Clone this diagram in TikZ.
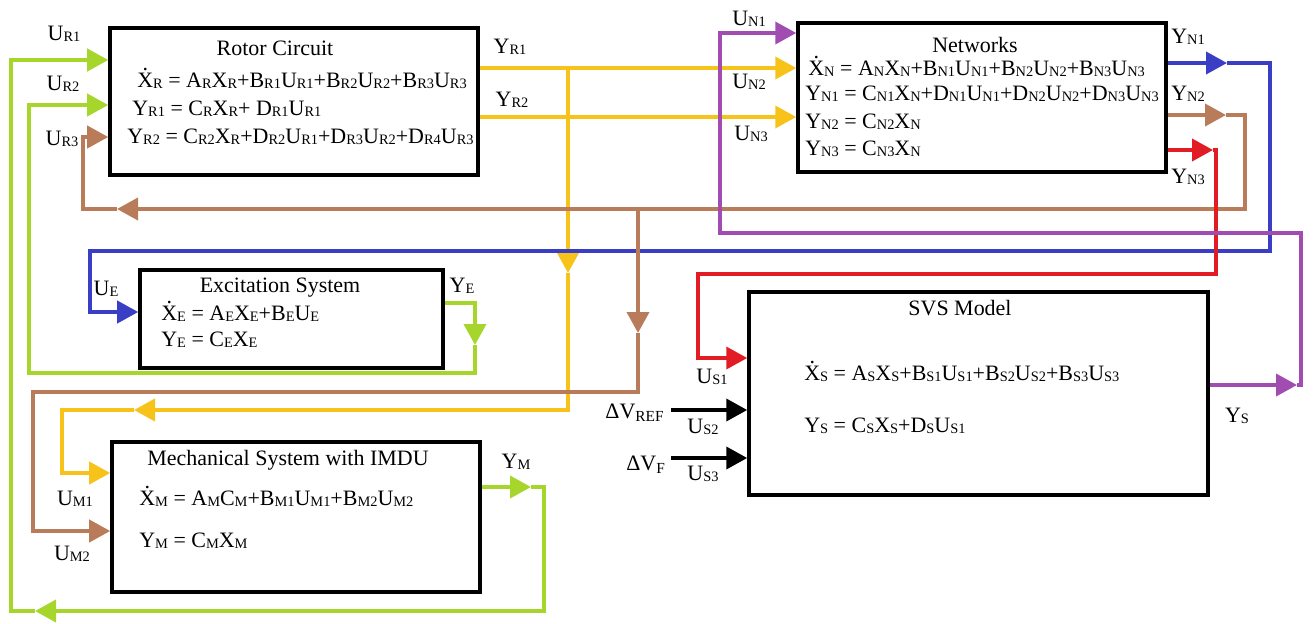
\documentclass[tikz,border=0pt]{standalone}
\usepackage{fontspec}
\setmainfont{Liberation Serif}
\usetikzlibrary{arrows.meta}
\definecolor{ylgreen}{RGB}{166,214,44}
\definecolor{gold}{RGB}{247,195,27}
\definecolor{brn}{RGB}{185,124,90}
\definecolor{blu}{RGB}{58,62,196}
\definecolor{purp}{RGB}{160,76,176}
\definecolor{sred}{RGB}{226,28,36}
\newcommand\lo[1]{\raisebox{-0.6pt}{\fontsize{8.2}{9}\selectfont #1}}
\newcommand\dotx[1]{\ooalign{#1\cr\hidewidth\raisebox{0.76em}{.}\hidewidth\cr}}

\begin{document}
\begin{tikzpicture}[font=\fontsize{12.5}{15}\selectfont,
    blk/.style={draw, line width=2pt},
    eq/.style={anchor=base west, inner sep=0pt},
    ttl/.style={anchor=base, inner sep=0pt},
    lbl/.style={anchor=base, inner sep=0pt},
    wire/.style={line width=2.2pt},
    arr/.style={-{Triangle[length=0.42cm,width=0.44cm]}}]
\useasboundingbox (0,0) rectangle (26.28,-12.46);

% blocks
\node[blk, minimum width=7.36cm, minimum height=2.94cm] (rotor) at (5.88,-2.03) {};
\node[blk, minimum width=7.36cm, minimum height=2.98cm] (net) at (19.64,-1.95) {};
\node[blk, minimum width=6.06cm, minimum height=1.96cm] (exc) at (5.83,-6.38) {};
\node[blk, minimum width=7.36cm, minimum height=3.0cm] (mech) at (5.92,-10.34) {};
\node[blk, minimum width=9.18cm, minimum height=4.06cm] (svs) at (19.57,-7.87) {};

% rotor circuit
\node[ttl] (rotT) at (5.5,-1.1) {Rotor Circuit};
\node[eq] (rotA) at (2.74,-1.74) {\dotx{X}\lo{R} = A\lo{R}X\lo{R}+B\lo{R1}U\lo{R1}+B\lo{R2}U\lo{R2}+B\lo{R3}U\lo{R3}};
\node[eq] (rotB) at (2.64,-2.3) {Y\lo{R1} = C\lo{R}X\lo{R}+ D\lo{R1}U\lo{R1}};
\node[eq] (rotC) at (2.54,-2.86) {Y\lo{R2} = C\lo{R2}X\lo{R}+D\lo{R2}U\lo{R1}+D\lo{R3}U\lo{R2}+D\lo{R4}U\lo{R3}};

% networks
\node[ttl] (netT) at (19.5,-1.04) {Networks};
\node[eq] (netA) at (16.16,-1.5) {\dotx{X}\lo{N} = A\lo{N}X\lo{N}+B\lo{N1}U\lo{N1}+B\lo{N2}U\lo{N2}+B\lo{N3}U\lo{N3}};
\node[eq] (netB) at (16.1,-2.0) {Y\lo{N1} = C\lo{N1}X\lo{N}+D\lo{N1}U\lo{N1}+D\lo{N2}U\lo{N2}+D\lo{N3}U\lo{N3}};
\node[eq] (netC) at (16.1,-2.56) {Y\lo{N2} = C\lo{N2}X\lo{N}};
\node[eq] (netD) at (16.1,-3.1) {Y\lo{N3} = C\lo{N3}X\lo{N}};

% excitation
\node[ttl] (excT) at (5.6,-5.84) {Excitation System};
\node[eq] (excA) at (3.22,-6.4) {\dotx{X}\lo{E} = A\lo{E}X\lo{E}+B\lo{E}U\lo{E}};
\node[eq] (excB) at (3.22,-6.92) {Y\lo{E} = C\lo{E}X\lo{E}};

% mechanical
\node[ttl] (mechT) at (5.76,-9.3) {Mechanical System with IMDU};
\node[eq] (mechA) at (2.78,-10.1) {\dotx{X}\lo{M} = A\lo{M}C\lo{M}+B\lo{M1}U\lo{M1}+B\lo{M2}U\lo{M2}};
\node[eq] (mechB) at (2.78,-10.94) {Y\lo{M} = C\lo{M}X\lo{M}};

% svs
\node[ttl] (svsT) at (19.2,-6.3) {SVS Model};
\node[eq] (svsA) at (16.08,-7.6) {\dotx{X}\lo{S} = A\lo{S}X\lo{S}+B\lo{S1}U\lo{S1}+B\lo{S2}U\lo{S2}+B\lo{S3}U\lo{S3}};
\node[eq] (svsB) at (16.08,-8.64) {Y\lo{S} = C\lo{S}X\lo{S}+D\lo{S}U\lo{S1}};

% signal labels
\node[lbl] (ur1) at (1.28,-0.8) {U\lo{R1}};
\node[lbl] (ur2) at (1.26,-1.8) {U\lo{R2}};
\node[lbl] (ur3) at (1.24,-2.9) {U\lo{R3}};
\node[lbl] (yr1) at (10.2,-1.06) {Y\lo{R1}};
\node[lbl] (yr2) at (10.24,-2.12) {Y\lo{R2}};
\node[lbl] (un1) at (14.98,-0.5) {U\lo{N1}};
\node[lbl] (un2) at (14.98,-1.76) {U\lo{N2}};
\node[lbl] (un3) at (15.02,-2.8) {U\lo{N3}};
\node[lbl] (yn1) at (23.76,-0.86) {Y\lo{N1}};
\node[lbl] (yn2) at (23.76,-2.0) {Y\lo{N2}};
\node[lbl] (yn3) at (23.76,-3.66) {Y\lo{N3}};
\node[lbl] (ue) at (2.12,-5.9) {U\lo{E}};
\node[lbl] (ye) at (9.24,-5.84) {Y\lo{E}};
\node[lbl] (ym) at (10.32,-9.36) {Y\lo{M}};
\node[lbl] (um1) at (1.5,-10.1) {U\lo{M1}};
\node[lbl] (um2) at (1.44,-11.2) {U\lo{M2}};
\node[lbl] (us1) at (14.24,-7.66) {U\lo{S1}};
\node[lbl] (dvr) at (12.7,-8.36) {ΔV\textsubscript{REF}};
\node[lbl] (us2) at (14.06,-8.66) {U\lo{S2}};
\node[lbl] (dvf) at (12.92,-9.4) {ΔV\textsubscript{F}};
\node[lbl] (us3) at (14.06,-9.6) {U\lo{S3}};
\node[lbl] (ys) at (24.74,-8.44) {Y\lo{S}};

% route points
\coordinate (j1) at (11.36,-1.36);
\coordinate (j2) at (11.36,-2.34);
\coordinate (g1) at (11.36,-5.46);
\coordinate (g3) at (2.68,-8.2);
\coordinate (g4) at (1.24,-8.2);
\coordinate (g5) at (1.24,-9.46);
\coordinate (p0) at (25.94,-7.7);
\coordinate (p2) at (26.02,-4.66);
\coordinate (p4) at (14.4,-0.66);
\coordinate (b0) at (24.54,-1.26);
\coordinate (b1) at (25.4,-5.02);
\coordinate (b2) at (1.8,-6.24);
\coordinate (n0) at (24.52,-2.3);
\coordinate (n1) at (24.9,-4.18);
\coordinate (n2) at (2.34,-4.18);
\coordinate (n3) at (1.66,-2.74);
\coordinate (k0) at (12.76,-4.18);
\coordinate (k1) at (12.76,-6.66);
\coordinate (k2) at (0.66,-7.84);
\coordinate (k3) at (0.66,-10.62);
\coordinate (d0) at (24.26,-3.0);
\coordinate (d1) at (24.32,-5.48);
\coordinate (d2) at (13.96,-7.16);
\coordinate (e0) at (9.5,-6.06);
\coordinate (e1) at (9.5,-6.9);
\coordinate (e2) at (0.58,-7.46);
\coordinate (e3) at (0.58,-2.1);
\coordinate (m0) at (10.62,-9.74);
\coordinate (m1) at (10.88,-12.22);
\coordinate (m2) at (0.7,-12.22);
\coordinate (m3) at (0.22,-1.2);
\coordinate (v1) at (13.42,-8.2);
\coordinate (v2) at (13.42,-9.16);

% rotor outputs
\draw[wire, gold, arr] (rotor.east |- j1) -- (net.west |- j1);
\draw[wire, gold, arr] (rotor.east |- j2) -- (net.west |- j2);
\draw[wire, gold, arr] (j1) -- (g1);
\draw[wire, gold, arr] (g1) |- (g3);
\draw[wire, gold, arr] (g3) -- (g4) |- (mech.west |- g5);

% network outputs
\draw[wire, blu, arr] (net.east |- b0) -- (b0);
\draw[wire, blu, arr] (b0) -| (b1) -| (b2) -- (exc.west |- b2);
\draw[wire, brn, arr] (net.east |- n0) -- (n0);
\draw[wire, brn, arr] (n0) -| (n1) -- (n2);
\draw[wire, brn, arr] (n2) -| (n3) -- (rotor.west |- n3);
\draw[wire, brn, arr] (k0) -- (k1);
\draw[wire, brn, arr] (k1) |- (k2) |- (mech.west |- k3);
\draw[wire, sred, arr] (net.east |- d0) -- (d0);
\draw[wire, sred, arr] (d0) -| (d1) -| (d2) -- (svs.west |- d2);

% excitation and mechanical outputs
\draw[wire, ylgreen, arr] (exc.east |- e0) -| (e1);
\draw[wire, ylgreen, arr] (e1) |- (e2) |- (rotor.west |- e3);
\draw[wire, ylgreen, arr] (mech.east |- m0) -- (m0);
\draw[wire, ylgreen, arr] (m0) -| (m1) -- (m2);
\draw[wire, ylgreen, arr] (m2) -| (m3) -- (rotor.west |- m3);

% svs
\draw[wire, purp, arr] (svs.east |- p0) -- (p0);
\draw[wire, purp, arr] (p0) -| (p2) -| (p4) -- (net.west |- p4);
\draw[wire, arr] (v1) -- (svs.west |- v1);
\draw[wire, arr] (v2) -- (svs.west |- v2);
\end{tikzpicture}
\end{document}
